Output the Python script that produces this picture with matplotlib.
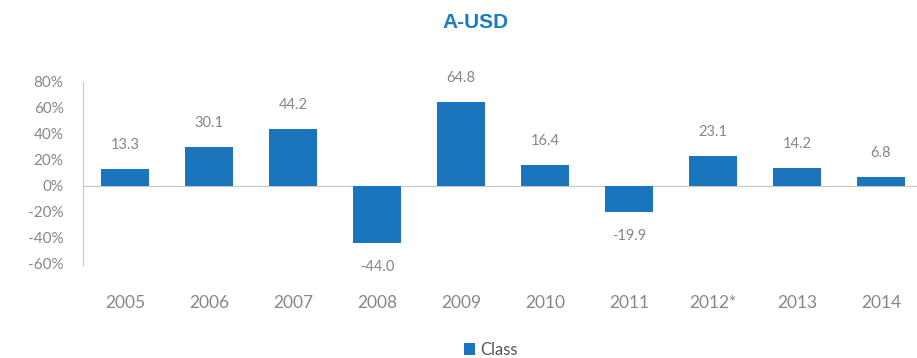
import matplotlib.pyplot as plt

years = ["2005", "2006", "2007", "2008", "2009", "2010", "2011", "2012*", "2013", "2014"]
returns = [13.3, 30.1, 44.2, -44.0, 64.8, 16.4, -19.9, 23.1, 14.2, 6.8]
y_ticks = [80, 60, 40, 20, 0, -20, -40, -60]

bar_color = "#1b75bc"
grey = "#878787"
plt.rcParams['font.family'] = ['Lato', 'DejaVu Sans']

fig = plt.figure(figsize=(9.17, 3.58), dpi=100)
ax = fig.add_axes([0.0905, 0.2626, 0.9095, 0.5084])

x = list(range(len(years)))
bars = ax.bar(x, returns, width=0.57, color=bar_color, label="Class", zorder=2)

# value labels above positive bars, below negative ones
for xi, v in zip(x, returns):
    if v >= 0:
        ax.annotate(f"{v:.1f}", (xi, v), xytext=(0, 12), textcoords="offset points",
                    ha="center", va="bottom", fontsize=10.5, color=grey)
    else:
        ax.annotate(f"{v:.1f}", (xi, v), xytext=(0, -12), textcoords="offset points",
                    ha="center", va="top", fontsize=10.5, color=grey)

ax.set_xlim(-0.5, 9.43)
ax.set_ylim(-60, 80)
ax.set_yticks(y_ticks)
ax.set_yticklabels([f"{t}%" for t in y_ticks])
ax.set_xticks(x)
ax.set_xticklabels(years)
ax.axhline(0, color="#c8c8c8", lw=0.8, zorder=1)

for s in ["top", "right", "bottom"]:
    ax.spines[s].set_visible(False)
ax.spines["left"].set_color("#c8c8c8")
ax.spines["left"].set_linewidth(0.8)
ax.spines["left"].set_bounds(-61, 80)
ax.tick_params(axis="y", length=0, labelsize=11, colors=grey, pad=14)
ax.tick_params(axis="x", length=0, labelsize=12.5, colors=grey, pad=22)

fig.text(0.519, 0.937, "A-USD", ha="center", va="center", fontsize=15,
         fontweight="bold", color="#1a7dc4", family="Liberation Sans")

fig.legend(handles=[bars], labels=["Class"], loc="center", bbox_to_anchor=(0.535, 0.022),
           frameon=False, fontsize=12, handlelength=0.7, handleheight=0.7,
           handletextpad=0.3, labelcolor="#555555")

fig.savefig("out.png", dpi=100)
